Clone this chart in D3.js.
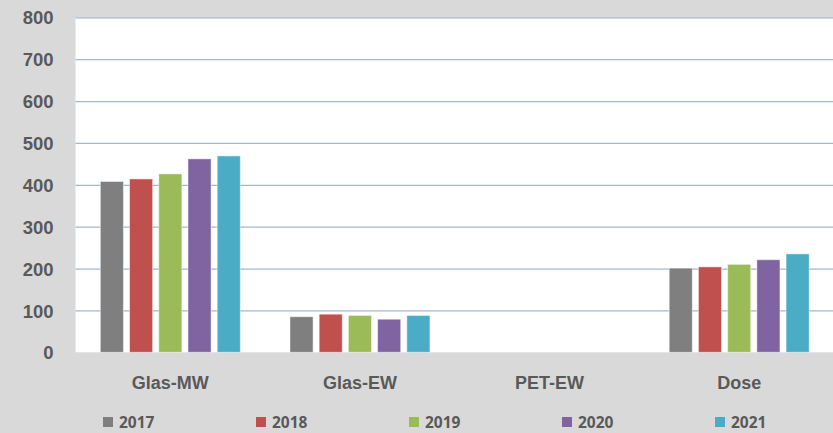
<!DOCTYPE html>
<html>
<head>
<meta charset="utf-8">
<script src="https://cdn.jsdelivr.net/npm/d3@7"></script>
<style>
  body { margin: 0; background: #d9d9d9; }
  svg { display: block; font-family: "Open Sans", sans-serif; }
  .axis text { fill: #595959; font-weight: 700; }
</style>
</head>
<body>
<div class="chart-holder"></div>
<script>
var categories = ["Glas-MW", "Glas-EW", "PET-EW", "Dose"];
var years = ["2017", "2018", "2019", "2020", "2021"];
var values2017 = [408, 85, 0, 201];
var values2018 = [414, 91, 0, 204];
var values2019 = [426, 88, 0, 210];
var values2020 = [462, 79, 0, 221];
var values2021 = [469, 88, 0, 235];
var yTicks = [0, 100, 200, 300, 400, 500, 600, 700, 800];
var colors = ["#7f7f7f", "#c0504d", "#9bbb59", "#8064a2", "#4bacc6"];

var series = [values2017, values2018, values2019, values2020, values2021];

var width = 833, height = 433;
var margin = {top: 17.3, right: -1, bottom: 80.7, left: 75.5};

var svg = d3.select(".chart-holder")
    .append("svg")
    .attr("width", width)
    .attr("height", height);

svg.append("rect")
    .attr("width", width).attr("height", height)
    .attr("fill", "#d9d9d9");

var x = d3.scaleBand()
    .domain(categories)
    .range([margin.left, width - margin.right]);

var x1 = d3.scaleBand()
    .domain(years)
    .range([0, x.bandwidth()])
    .paddingInner(0.21)
    .paddingOuter(0.85);

var y = d3.scaleLinear()
    .domain([0, 800])
    .range([height - margin.bottom, margin.top]);

// white plot area
svg.append("rect")
    .attr("x", margin.left)
    .attr("y", y(800))
    .attr("width", width - margin.left)
    .attr("height", y(0) - y(800))
    .attr("fill", "#ffffff");

// gridlines
var grid = svg.append("g")
    .attr("transform", "translate(" + margin.left + ",0)")
    .call(d3.axisLeft(y).tickValues(yTicks.slice(1)).tickSize(-(width - margin.left)).tickFormat(""));
grid.select(".domain").remove();
grid.selectAll("line").attr("stroke", "#a3b6d0").attr("stroke-width", 1.3);

// bars
var data = [];
categories.forEach(function(c, i) {
  years.forEach(function(yr, j) {
    data.push({cat: c, year: yr, value: series[j][i], color: colors[j]});
  });
});

svg.append("g")
  .selectAll("rect")
  .data(data.filter(function(d) { return d.value > 0; }))
  .enter().append("rect")
    .attr("x", function(d) { return x(d.cat) + x1(d.year); })
    .attr("y", function(d) { return y(d.value); })
    .attr("width", x1.bandwidth())
    .attr("height", function(d) { return y(0) - y(d.value); })
    .attr("fill", function(d) { return d.color; })
    .attr("stroke", "#ffffff")
    .attr("stroke-opacity", 0.45)
    .attr("stroke-width", 1);

// y axis labels
var yAxis = svg.append("g")
    .attr("class", "axis")
    .attr("transform", "translate(" + margin.left + ",0)")
    .call(d3.axisLeft(y).tickValues(yTicks).tickSize(0).tickPadding(22));
yAxis.select(".domain").remove();
yAxis.selectAll("text").style("font-size", "18.5px").attr("dy", "0.36em");

// x axis labels
var xAxis = svg.append("g")
    .attr("class", "axis")
    .attr("transform", "translate(0," + y(0) + ")")
    .call(d3.axisBottom(x).tickSize(0).tickPadding(24));
xAxis.select(".domain").remove();
xAxis.selectAll("text").style("font-size", "18px");

// legend
var legend = svg.append("g")
    .attr("class", "legend")
    .style("font-size", "15.5px");
years.forEach(function(yr, i) {
  var lx = 103 + i * 153;
  legend.append("rect")
      .attr("x", lx).attr("y", 417)
      .attr("width", 10).attr("height", 10)
      .attr("fill", colors[i]);
  legend.append("text")
      .attr("x", lx + 16).attr("y", 428)
      .attr("fill", "#595959")
      .style("font-weight", 700)
      .text(yr);
});
</script>
</body>
</html>
